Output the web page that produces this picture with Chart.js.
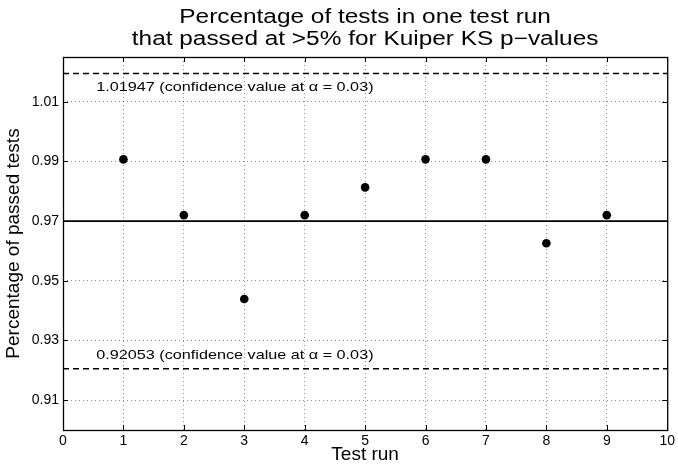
<!DOCTYPE html>
<html>
<head>
<meta charset="utf-8">
<script src="https://cdn.jsdelivr.net/npm/chart.js@4.4.1/dist/chart.umd.min.js"></script>
<style>
  html, body { margin: 0; padding: 0; background: #fff; }
  #wrap { width: 678px; height: 466px; }
</style>
</head>
<body>
<div id="wrap"><canvas id="myChart" width="678" height="466"></canvas></div>
<script>
// pass rate of each test run (107 tests per run)
const testRuns = [1, 2, 3, 4, 5, 6, 7, 8, 9];
const passRates = [0.9907, 0.9720, 0.9439, 0.9720, 0.9813, 0.9907, 0.9907, 0.9626, 0.9720];

const expectedRate = 0.97;
const upperBound = 1.01947;
const lowerBound = 0.92053;

const xTicks = [0, 1, 2, 3, 4, 5, 6, 7, 8, 9, 10];
const yTicks = [0.91, 0.93, 0.95, 0.97, 0.99, 1.01];

const boundTexts = ['1.01947 (confidence value at \u03b1 = 0.03)', '0.92053 (confidence value at \u03b1 = 0.03)'];
const boundTextX = [0.55, 0.55];
const boundTextY = [1.015, 0.925];

const titleLines = ['Percentage of tests in one test run', 'that passed at >5% for Kuiper KS p\u2212values'];

const FONT = '"Liberation Sans", Arial, Helvetica, sans-serif';

const hline = (y) => [{x: 0, y: y}, {x: 10, y: y}];

const data = {
    datasets: [
        {
            label: 'pass rate',
            type: 'scatter',
            data: testRuns.map((r, i) => ({x: r, y: passRates[i]})),
            backgroundColor: '#000',
            borderColor: '#000',
            pointRadius: 4.3,
            pointHoverRadius: 4.3,
            borderWidth: 0
        },
        {
            label: 'expected',
            type: 'line',
            data: hline(expectedRate),
            borderColor: '#000',
            borderWidth: 1.6,
            pointRadius: 0
        },
        {
            label: 'upper',
            type: 'line',
            data: hline(upperBound),
            borderColor: '#000',
            borderWidth: 1.6,
            borderDash: [6, 4],
            pointRadius: 0
        },
        {
            label: 'lower',
            type: 'line',
            data: hline(lowerBound),
            borderColor: '#000',
            borderWidth: 1.6,
            borderDash: [6, 4],
            pointRadius: 0
        }
    ]
};

// text drawn a little wider than the font's own proportions
const wideText = (ctx, txt, x, y, sx) => {
    ctx.save();
    ctx.translate(x, y);
    ctx.scale(sx, 1);
    ctx.fillText(txt, 0, 0);
    ctx.restore();
};

// box, inward tick marks, title and the text next to the bounds
const framePlugin = {
    id: 'frame',
    afterDraw(chart) {
        const {ctx, chartArea: a, scales} = chart;
        const xs = scales.x, ys = scales.y;
        ctx.save();
        ctx.strokeStyle = '#000';
        ctx.lineWidth = 1;
        ctx.beginPath();
        xTicks.forEach((t) => {
            const px = Math.round(xs.getPixelForValue(t)) + 0.5;
            ctx.moveTo(px, a.bottom); ctx.lineTo(px, a.bottom - 5);
            ctx.moveTo(px, a.top); ctx.lineTo(px, a.top + 5);
        });
        yTicks.forEach((t) => {
            const py = Math.round(ys.getPixelForValue(t)) + 0.5;
            ctx.moveTo(a.left, py); ctx.lineTo(a.left + 5, py);
            ctx.moveTo(a.right, py); ctx.lineTo(a.right - 5, py);
        });
        ctx.stroke();
        ctx.lineWidth = 1.3;
        ctx.strokeRect(a.left + 0.5, a.top + 0.5, a.right - a.left, a.bottom - a.top);

        ctx.fillStyle = '#000';
        ctx.font = '13.5px ' + FONT;
        ctx.textAlign = 'left';
        ctx.textBaseline = 'middle';
        boundTexts.forEach((txt, i) => {
            wideText(ctx, txt, xs.getPixelForValue(boundTextX[i]), ys.getPixelForValue(boundTextY[i]), 1.2);
        });

        ctx.font = '20px ' + FONT;
        ctx.textAlign = 'center';
        const cx = (a.left + a.right) / 2;
        titleLines.forEach((line, i) => {
            wideText(ctx, line, cx, 17 + i * 22, 1.22);
        });
        ctx.restore();
    }
};

const conf = {
    type: 'scatter',
    data,
    options: {
        responsive: false,
        animation: false,
        layout: {padding: {top: 57, right: 10, left: 0, bottom: 0}},
        plugins: {
            legend: {display: false},
            tooltip: {enabled: false}
        },
        scales: {
            x: {
                type: 'linear',
                min: 0,
                max: 10,
                afterBuildTicks: (scale) => { scale.ticks = xTicks.map((v) => ({value: v})); },
                afterFit: (scale) => { scale.height = 36; },
                grid: {color: 'rgba(0,0,0,0.45)', lineWidth: 1, drawTicks: false},
                border: {display: false, dash: [1, 3]},
                ticks: {color: '#000', font: {family: FONT, size: 14}, padding: 3, maxRotation: 0},
                title: {display: true, text: 'Test run', color: '#000', font: {family: FONT, size: 19}, padding: 0}
            },
            y: {
                type: 'linear',
                min: 0.9,
                max: 1.025,
                afterBuildTicks: (scale) => { scale.ticks = yTicks.map((v) => ({value: v})); },
                afterFit: (scale) => { scale.width = 63; },
                grid: {color: 'rgba(0,0,0,0.45)', lineWidth: 1, drawTicks: false},
                border: {display: false, dash: [1, 3]},
                ticks: {color: '#000', font: {family: FONT, size: 14}, padding: 4, callback: (v) => v.toFixed(2)},
                title: {display: true, text: 'Percentage of passed tests', color: '#000', font: {family: FONT, size: 19}, padding: 2}
            }
        }
    },
    plugins: [framePlugin]
};

const myChart = new Chart(document.getElementById('myChart'), conf);
</script>
</body>
</html>
